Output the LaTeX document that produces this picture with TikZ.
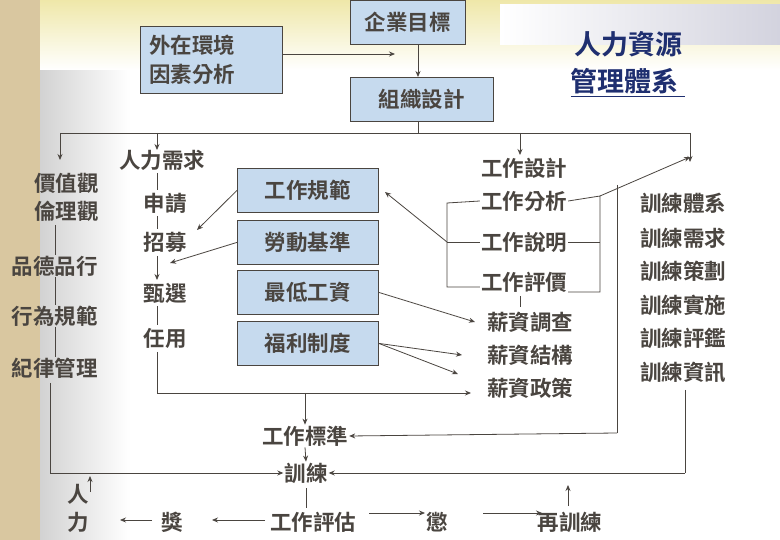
\documentclass[tikz,border=0pt]{standalone}
\usepackage{fontspec}
\setmainfont{Noto Sans CJK TC}[BoldFont={Noto Sans CJK TC Bold}]
\usetikzlibrary{arrows.meta,shadings}
\definecolor{ink}{HTML}{4A4540}
\definecolor{boxfill}{HTML}{C6DAEE}
\definecolor{tan}{HTML}{D9C7A0}
\definecolor{ttl}{HTML}{1F2F70}
\begin{document}
\begin{tikzpicture}[x=1pt,y=-1pt,
  lbl/.style={text=ink,font=\fontsize{21.5}{25}\selectfont\bfseries,inner sep=1pt},
  bx/.style={lbl,draw=ink,fill=boxfill,line width=0.8pt,minimum height=44pt,anchor=north west,inner sep=0pt},
  ln/.style={draw=ink,line width=0.8pt},
  ar/.style={ln,-{Stealth[length=6pt,width=5pt]}}]
\useasboundingbox (0,0) rectangle (780,540);
\fill[white] (0,0) rectangle (780,540);
\fill[tan] (0,0) rectangle (40,540);
\shade[left color=gray!35,right color=white] (40,60) rectangle (130,540);
\shade[top color=yellow!30!tan!60,bottom color=white] (40,0) rectangle (780,70);
\shade[left color=white,right color=blue!15!gray!30] (500,5) rectangle (780,45);
% boxes
\node[bx,minimum width=142pt,align=left,text width=124pt,inner xsep=9pt,font=\fontsize{21.5}{29}\selectfont\bfseries,minimum height=67pt] (ext) at (140,26) {外在環境\\因素分析};
\node[bx,minimum width=115pt] (goal) at (350,0) {企業目標};
\node[bx,minimum width=143pt] (org) at (350,77) {組織設計};
\node[bx,minimum width=141pt] (b1) at (237,168) {工作規範};
\node[bx,minimum width=141pt] (b2) at (237,220) {勞動基準};
\node[bx,minimum width=141pt] (b3) at (237,270) {最低工資};
\node[bx,minimum width=141pt] (b4) at (237,321) {福利制度};
\node[text=ttl,font=\fontsize{27}{37}\selectfont\bfseries,align=center] (title) at (628,64) {人力資源\\\underline{管理體系\ }};
% left column
\node[lbl,anchor=east] (v1) at (100,183) {價值觀};
\node[lbl,anchor=east] (v2) at (100,211) {倫理觀};
\node[lbl] (v3) at (55,266) {品德品行};
\node[lbl] (v4) at (55,316) {行為規範};
\node[lbl] (v5) at (55,368) {紀律管理};
% middle column
\node[lbl] (m1) at (162,160) {人力需求};
\node[lbl] (m2) at (165,203) {申請};
\node[lbl] (m3) at (165,242) {招募};
\node[lbl] (m4) at (165,293) {甄選};
\node[lbl] (m5) at (165,338) {任用};
% job column
\node[lbl] (j1) at (524,168) {工作設計};
\node[lbl] (j2) at (524,201) {工作分析};
\node[lbl] (j3) at (524,242) {工作說明};
\node[lbl] (j4) at (524,282) {工作評價};
\node[lbl] (s1) at (530,322) {薪資調查};
\node[lbl] (s2) at (530,355) {薪資結構};
\node[lbl] (s3) at (530,388) {薪資政策};
% training column
\node[lbl] (t1) at (683,203) {訓練體系};
\node[lbl] (t2) at (683,238) {訓練需求};
\node[lbl] (t3) at (683,271) {訓練策劃};
\node[lbl] (t4) at (683,305) {訓練實施};
\node[lbl] (t5) at (683,338) {訓練評鑑};
\node[lbl] (t6) at (683,372) {訓練資訊};
% bottom
\node[lbl] (std) at (305,436) {工作標準};
\node[lbl] (tr) at (306,473) {訓練};
\node[lbl] (eval) at (313,522) {工作評估};
\node[lbl] (p1) at (172,522) {獎};
\node[lbl] (p2) at (437,522) {懲};
\node[lbl] (re) at (570,522) {再訓練};
\node[lbl] (hr1) at (78,494) {人};
\node[lbl] (hr2) at (78,522) {力};
% top connectors
\coordinate (c1) at (395,54);
\draw[ar] (ext.east |- c1) -- (c1);
\draw[ar] (418,45) -- (418,77);
\draw[ln] (418,122) -- (418,133);
\draw[ln] (60,133) -- (690,133);
\draw[ar] (60,133) -- (60,160);
\draw[ar] (157,133) -- (157,150);
\draw[ar] (520,133) -- (520,155);
\draw[ar] (690,133) -- (690,162);
% left column lines
\draw[ln] (55,225) -- (v3.north);
\draw[ln] (v3.south) -- (v4.north);
\draw[ln] (v4.south) -- (v5.north);
\draw[ln] (50,383) -- (50,473);
\draw[ar] (50,473) -- (tr.west);
\draw[ar] (90,492) -- (90,476);
% middle column
\draw[ln] (157,173) -- (157,190);
\draw[ln] (157,216) -- (157,229);
\draw[ar] (157,256) -- (157,280);
\draw[ln] (157,306) -- (157,325);
\draw[ln] (157,352) -- (157,393) -- (468,393);
\draw[ar] (468,393) -- (471,393);
\draw[ar] (305,393) -- (std.north);
% boxes arrows
\draw[ar] (b1.west) -- (197,230);
\draw[ar] (b2.west) -- (170,263);
\draw[ar] (b3.east) -- (475,322);
\draw[ar] (b4.east) -- (462,355);
\draw[ar] (b4.east) -- (458,374);
% job bracket
\draw[ln] (j2.west) -- (447,203) -- (447,287) -- (j4.west |- 0,287);
\draw[ln] (447,242) -- (j3.west);
\draw[ar] (447,242) -- (385,192);
\draw[ln] (j2.east) -- (600,196) -- (600,292) -- (j4.east |- 0,292);
\draw[ln] (j3.east) -- (600,242);
\draw[ar] (600,196) -- (690,157);
\draw[ln] (520,296) -- (520,307);
% right long line
\draw[ln] (617,185) -- (617,433);
\draw[ar] (617,433) -- (std.east);
\draw[ar] (std.south) -- (tr.north);
\draw[ln] (685,390) -- (685,473);
\draw[ar] (685,473) -- (tr.east);
\draw[ln] (306,488) -- (306,508);
% bottom row
\draw[ar] (265,520) -- (212,520);
\draw[ar] (152,520) -- (120,520);
\draw[ar] (369,513) -- (425,513);
\draw[ar] (483,513) -- (542,513);
\draw[ar] (568,506) -- (568,485);
\end{tikzpicture}
\end{document}
